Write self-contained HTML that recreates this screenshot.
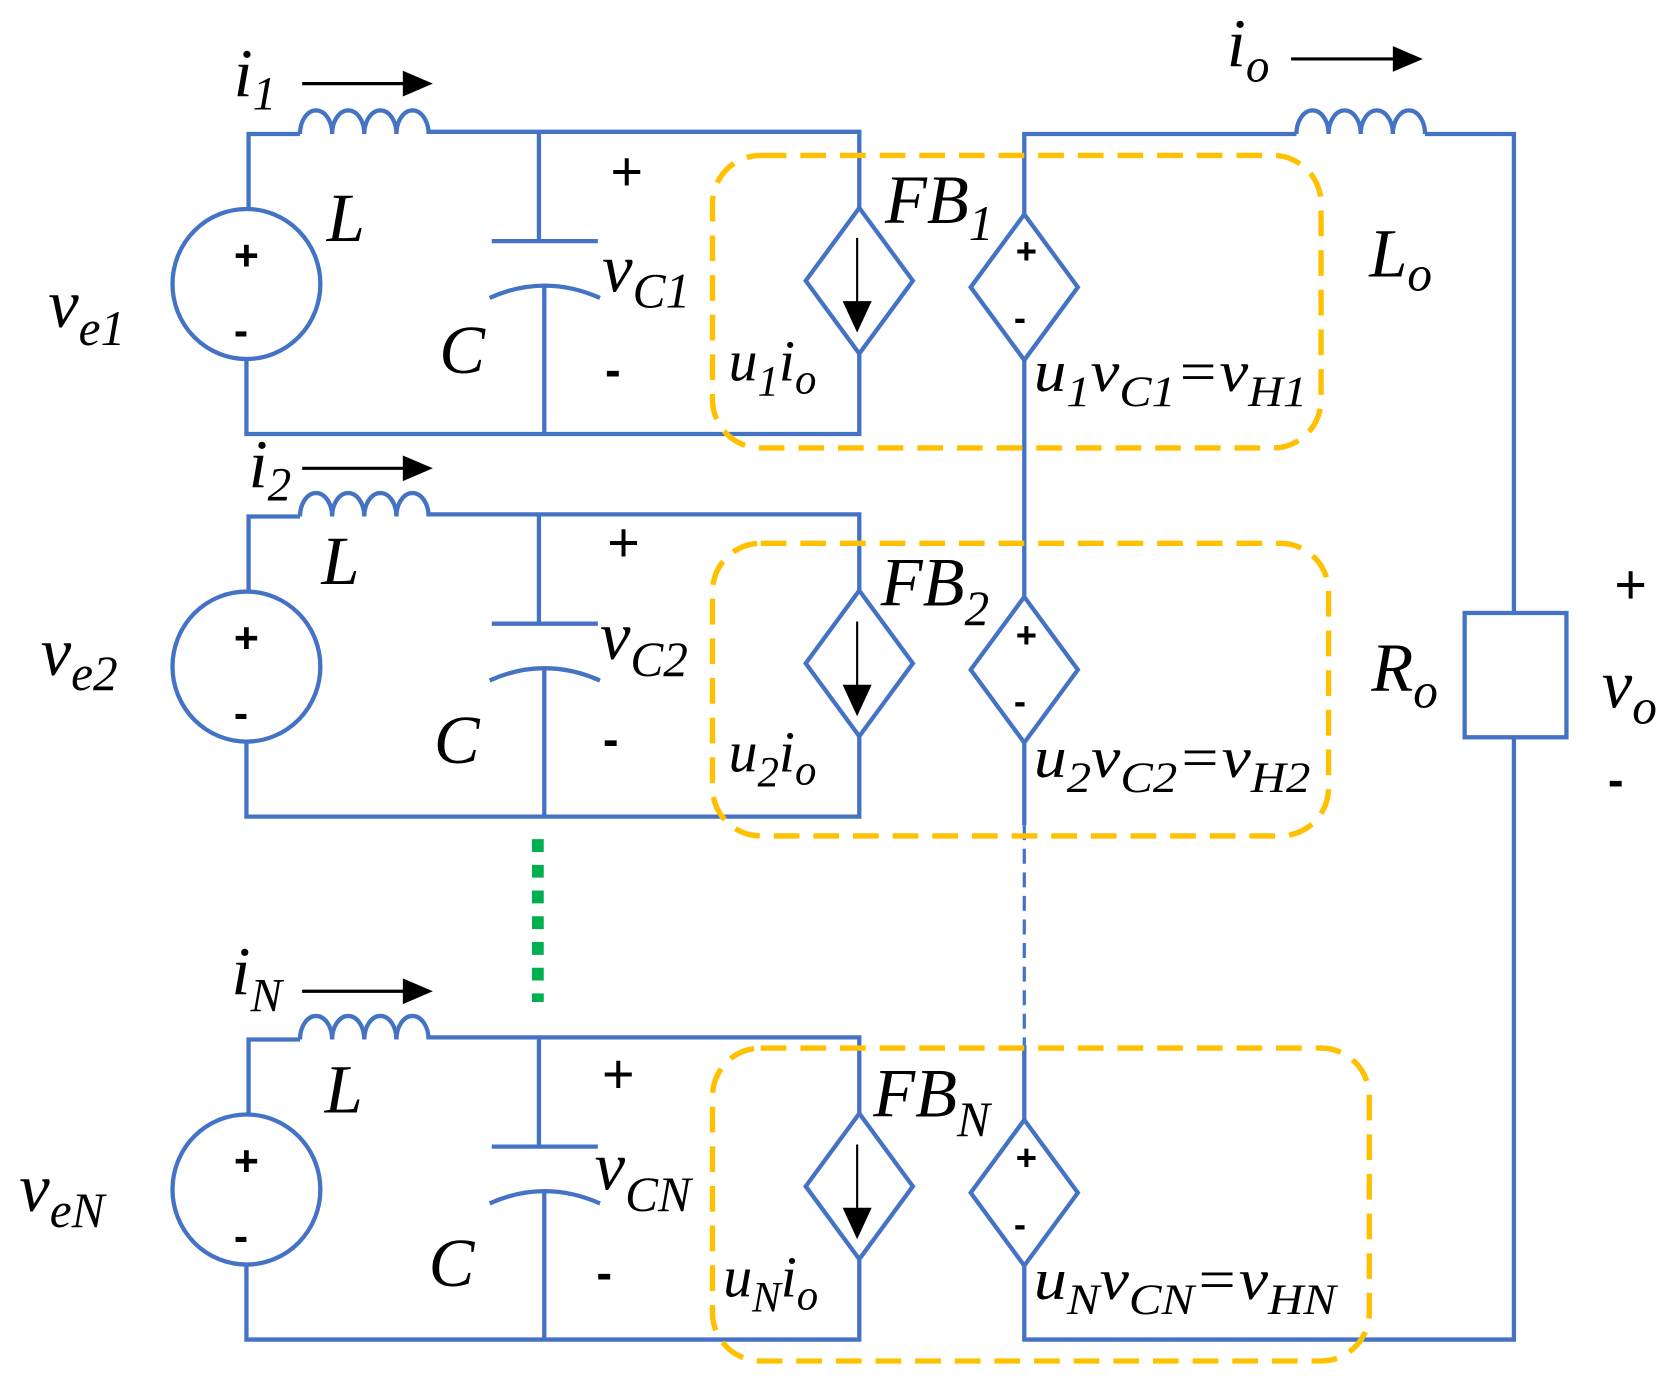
<!DOCTYPE html>
<html><head><meta charset="utf-8"><style>
html,body{margin:0;padding:0;background:#fff}
svg{display:block}
svg text{font-family:"Times New Roman","Liberation Serif",Times,serif;font-style:italic;fill:#000}
svg text.n{font-family:"Liberation Sans",Arial,sans-serif;font-style:normal}
</style></head><body>
<svg width="1680" height="1391" viewBox="0 0 1568 1298" preserveAspectRatio="none" xmlns="http://www.w3.org/2000/svg">
<g fill="none" stroke="#4472C4" stroke-width="4">
<g>
<path d="M232,195 V125 H280 M400,123 H802 V194 M802,330 V405 H230 V335"/>
<path d="M280,125 a15,22 0 0 1 30,0 a15,22 0 0 1 30,0 a15,22 0 0 1 30,0 a15,22 0 0 1 30,0"/>
<ellipse cx="230" cy="265" rx="69" ry="70"/>
<path d="M503,123 V225 M459,225 H558 M457,278 Q508,255 560,278 M508,265 V405"/>
<path d="M802,194 L852,262 L802,330 L752,262 Z"/>
<path d="M956,200 L1006,268 L956,336 L906,268 Z"/>
</g>
<g transform="translate(0,357)">
<path d="M232,195 V125 H280 M400,123 H802 V194 M802,330 V405 H230 V335"/>
<path d="M280,125 a15,22 0 0 1 30,0 a15,22 0 0 1 30,0 a15,22 0 0 1 30,0 a15,22 0 0 1 30,0"/>
<ellipse cx="230" cy="265" rx="69" ry="70"/>
<path d="M503,123 V225 M459,225 H558 M457,278 Q508,255 560,278 M508,265 V405"/>
<path d="M802,194 L852,262 L802,330 L752,262 Z"/>
<path d="M956,200 L1006,268 L956,336 L906,268 Z"/>
</g>
<g transform="translate(0,845)">
<path d="M232,195 V125 H280 M400,123 H802 V194 M802,330 V405 H230 V335"/>
<path d="M280,125 a15,22 0 0 1 30,0 a15,22 0 0 1 30,0 a15,22 0 0 1 30,0 a15,22 0 0 1 30,0"/>
<ellipse cx="230" cy="265" rx="69" ry="70"/>
<path d="M503,123 V225 M459,225 H558 M457,278 Q508,255 560,278 M508,265 V405"/>
<path d="M802,194 L852,262 L802,330 L752,262 Z"/>
<path d="M956,200 L1006,268 L956,336 L906,268 Z"/>
</g>
<path d="M956,200 V125 H1210 M1330,125 H1413 V572 M1413,688 V1250 H956 V1181"/>
<path d="M1210,125 a15,22 0 0 1 30,0 a15,22 0 0 1 30,0 a15,22 0 0 1 30,0 a15,22 0 0 1 30,0"/>
<rect x="1367" y="572" width="95" height="116"/>
<path d="M956,336 V557 M956,693 V770 M956,1045 V975"/>
<path d="M956,770 V975" stroke-width="3" stroke-dasharray="14 8"/>
</g>
<path d="M502,783 V935" stroke="#00B050" stroke-width="11" stroke-dasharray="12 12" fill="none"/>
<g fill="none" stroke="#FFC000" stroke-width="5" stroke-dasharray="24 13">
<rect x="665" y="145" width="568" height="273" rx="45"/>
<rect x="665" y="507" width="575" height="273" rx="45"/>
<rect x="665" y="978" width="613" height="292" rx="45"/>
</g>
<g stroke="#000" stroke-width="3">
<line x1="282" y1="78" x2="380" y2="78"/>
<line x1="282" y1="437" x2="380" y2="437"/>
<line x1="282" y1="925" x2="380" y2="925"/>
<line x1="1205" y1="55" x2="1305" y2="55"/>
</g>
<g fill="#000">
<path d="M376,66 L404,78 L376,90Z"/>
<path d="M376,425 L404,437 L376,449Z"/>
<path d="M376,913 L404,925 L376,937Z"/>
<path d="M1300,43 L1328,55 L1300,67Z"/>
</g>
<g stroke="#000" stroke-width="2" fill="#000">
<line x1="800" y1="222" x2="800" y2="285"/><path d="M788,282 L812,282 L800,308Z"/>
<line x1="800" y1="580" x2="800" y2="643"/><path d="M788,640 L812,640 L800,666Z"/>
<line x1="800" y1="1068" x2="800" y2="1131"/><path d="M788,1128 L812,1128 L800,1154Z"/>
</g>
<g font-size="40" text-anchor="middle" font-weight="bold">
<text class="n" x="230" y="252">+</text><text class="n" x="225" y="322">-</text>
<text class="n" x="230" y="609">+</text><text class="n" x="225" y="679">-</text>
<text class="n" x="230" y="1097">+</text><text class="n" x="225" y="1167">-</text>
<text class="n" x="958" y="246" font-size="34">+</text><text class="n" x="952" y="308" font-size="34">-</text>
<text class="n" x="958" y="604" font-size="34">+</text><text class="n" x="952" y="666" font-size="34">-</text>
<text class="n" x="958" y="1092" font-size="34">+</text><text class="n" x="952" y="1154" font-size="34">-</text>
</g>
<g font-size="52" text-anchor="middle">
<text class="n" x="585" y="178">+</text><text class="n" x="572" y="360" font-weight="bold" font-size="44">-</text>
<text class="n" x="582" y="524">+</text><text class="n" x="570" y="705" font-weight="bold" font-size="44">-</text>
<text class="n" x="577" y="1020">+</text><text class="n" x="564" y="1203" font-weight="bold" font-size="44">-</text>
<text class="n" x="1522" y="563">+</text><text class="n" x="1508" y="743" font-weight="bold" font-size="44">-</text>
</g>
<g font-size="64">
<text x="218" y="90">i<tspan font-size="44" dy="12">1</tspan></text>
<text x="232" y="455">i<tspan font-size="44" dy="12">2</tspan></text>
<text x="216" y="928">i<tspan font-size="44" dy="16">N</tspan></text>
<text x="1145" y="62">i<tspan font-size="44" dy="14">o</tspan></text>
<text x="305" y="225">L</text><text x="300" y="545">L</text><text x="303" y="1038">L</text>
<text x="410" y="348">C</text><text x="405" y="712">C</text><text x="400" y="1200">C</text>
<text x="45" y="305">v<tspan font-size="46" dy="17">e1</tspan></text>
<text x="38" y="630">v<tspan font-size="46" dy="14">e2</tspan></text>
<text x="18" y="1130">v<tspan font-size="46" dy="15">eN</tspan></text>
<text x="562" y="272">v<tspan font-size="46" dy="15">C1</tspan></text>
<text x="560" y="615">v<tspan font-size="46" dy="16">C2</tspan></text>
<text x="555" y="1110">v<tspan font-size="46" dy="20">CN</tspan></text>
<text x="826" y="208">FB<tspan font-size="46" dy="16">1</tspan></text>
<text x="822" y="565">FB<tspan font-size="46" dy="18">2</tspan></text>
<text x="815" y="1042">FB<tspan font-size="46" dy="18">N</tspan></text>
<text x="1278" y="258">L<tspan font-size="46" dy="13">o</tspan></text>
<text x="1280" y="645">R<tspan font-size="46" dy="15">o</tspan></text>
<text x="1495" y="660">v<tspan font-size="46" dy="15">o</tspan></text>
</g>
<g font-size="54">
<text x="680" y="355">u<tspan font-size="40" dy="14">1</tspan><tspan dy="-14">i</tspan><tspan font-size="40" dy="12">o</tspan></text>
<text x="680" y="720">u<tspan font-size="40" dy="14">2</tspan><tspan dy="-14">i</tspan><tspan font-size="40" dy="12">o</tspan></text>
<text x="675" y="1210">u<tspan font-size="40" dy="14">N</tspan><tspan dy="-14">i</tspan><tspan font-size="40" dy="12">o</tspan></text>
<text x="965" y="365" textLength="255" lengthAdjust="spacingAndGlyphs">u<tspan font-size="40" dy="14">1</tspan><tspan dy="-14">v</tspan><tspan font-size="40" dy="14">C1</tspan><tspan dy="-14">=v</tspan><tspan font-size="40" dy="14">H1</tspan></text>
<text x="965" y="725" textLength="258" lengthAdjust="spacingAndGlyphs">u<tspan font-size="40" dy="14">2</tspan><tspan dy="-14">v</tspan><tspan font-size="40" dy="14">C2</tspan><tspan dy="-14">=v</tspan><tspan font-size="40" dy="14">H2</tspan></text>
<text x="965" y="1212" textLength="282" lengthAdjust="spacingAndGlyphs">u<tspan font-size="40" dy="14">N</tspan><tspan dy="-14">v</tspan><tspan font-size="40" dy="14">CN</tspan><tspan dy="-14">=v</tspan><tspan font-size="40" dy="14">HN</tspan></text>
</g>
</svg>
</body></html>
